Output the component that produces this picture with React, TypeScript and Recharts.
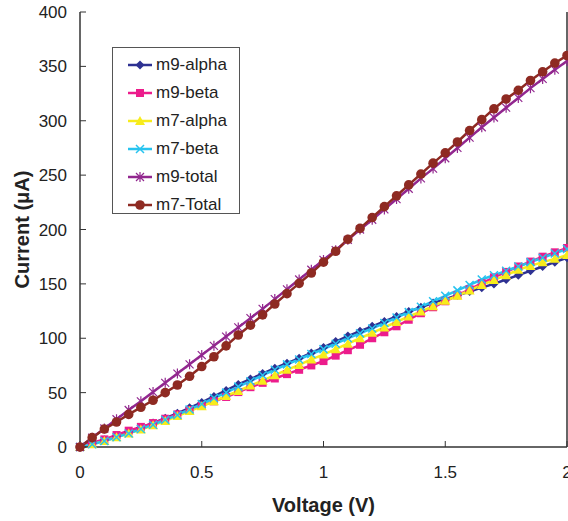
import React from "react";
import { LineChart, Line, XAxis, YAxis, Legend, ReferenceLine } from "recharts";

const voltage = [
  0, 0.05, 0.1, 0.15, 0.2, 0.25, 0.3, 0.35, 0.4, 0.45, 0.5, 0.55, 0.6, 0.65, 0.7, 0.75, 0.8, 0.85, 0.9, 0.95, 1,
  1.05, 1.1, 1.15, 1.2, 1.25, 1.3, 1.35, 1.4, 1.45, 1.5, 1.55, 1.6, 1.65, 1.7, 1.75, 1.8, 1.85, 1.9, 1.95, 2,
];

const m9Alpha = [
  0, 3.5, 6.5, 10, 14, 18, 22, 26.5, 31, 36, 41, 46.5, 52, 57.5, 62.5, 67.5, 72.5, 77, 81.5, 86.5, 91.5,
  97, 102, 106.5, 111, 115.5, 120, 124.5, 128.5, 132.5, 136, 139.5, 143, 146.5, 150, 154, 158, 162, 166, 170, 174,
];
const m9Beta = [
  0, 4, 7, 11, 15, 18.5, 22, 26, 30, 34, 38, 42, 46, 50.5, 55, 59, 63, 67, 71, 75, 79,
  84, 89, 94, 100, 105.5, 111, 117, 123, 128.5, 134, 139.5, 145, 150.5, 156, 161, 166, 170.5, 175, 179, 183,
];
const m7Alpha = [
  0, 2.5, 5.5, 9, 12.5, 16, 20, 24, 28.5, 33, 37.5, 42, 47, 51.5, 56.5, 61, 66, 71, 75.5, 80.5, 85,
  90, 95, 100, 105, 110, 115, 120, 124.5, 129.5, 134.5, 139, 144, 149, 153.5, 158, 163, 166.5, 170, 173, 176.5,
];
const m7Beta = [
  0, 2.5, 5.5, 9, 12.5, 16.5, 20.5, 25, 29.5, 34.5, 39.5, 45, 50, 55.5, 60.5, 66, 71, 76, 80.5, 85.5, 90,
  95, 100, 104.5, 109, 114, 119, 124, 129, 134, 139, 144, 149, 154, 158, 162, 166, 170, 174, 178, 182,
];
const m9Total = [
  0, 8.5, 17, 25.5, 34, 42, 50.5, 59, 67.5, 76, 84.5, 93, 101.5, 110, 118.5, 127, 136, 145, 154, 163, 172,
  181, 190.5, 200, 209, 218.5, 228, 237.5, 247, 256, 265.5, 275, 284.5, 294, 303, 312, 321, 330, 338.5, 347, 355,
];
const m7Total = [
  0, 8.6, 16.5, 23, 30, 36.5, 43, 50, 57, 65, 74, 83, 93, 103, 112, 121.5, 131.5, 141, 150.5, 160, 170,
  180, 191, 201, 211, 221, 231, 241, 251, 261, 270.5, 280.5, 291, 301, 311, 320, 328, 337, 345, 353, 360,
];

const xTicks = [0, 0.5, 1, 1.5, 2];
const yTicks = [0, 50, 100, 150, 200, 250, 300, 350, 400];

const data = voltage.map((v, i) => ({
  v,
  m9a: m9Alpha[i],
  m9b: m9Beta[i],
  m7a: m7Alpha[i],
  m7b: m7Beta[i],
  m9t: m9Total[i],
  m7t: m7Total[i],
}));

const FONT = "'Liberation Sans', Arial, sans-serif";

type Shape = "diamond" | "square" | "triangle" | "x" | "star" | "circle";

const marker = (shape: Shape, color: string, cx: number, cy: number, key?: any) => {
  switch (shape) {
    case "diamond":
      return (
        <path key={key} d={`M${cx},${cy - 4.5}L${cx + 4.5},${cy}L${cx},${cy + 4.5}L${cx - 4.5},${cy}Z`} fill={color} />
      );
    case "square":
      return <rect key={key} x={cx - 4} y={cy - 4} width={8} height={8} fill={color} />;
    case "triangle":
      return <path key={key} d={`M${cx},${cy - 5}L${cx + 5},${cy + 4}L${cx - 5},${cy + 4}Z`} fill={color} />;
    case "x":
      return (
        <path
          key={key}
          d={`M${cx - 4},${cy - 4}L${cx + 4},${cy + 4}M${cx + 4},${cy - 4}L${cx - 4},${cy + 4}`}
          stroke={color}
          strokeWidth={1.5}
        />
      );
    case "star":
      return (
        <path
          key={key}
          d={`M${cx - 4},${cy - 4}L${cx + 4},${cy + 4}M${cx + 4},${cy - 4}L${cx - 4},${cy + 4}M${cx},${cy - 5}L${cx},${cy + 5}`}
          stroke={color}
          strokeWidth={1.2}
        />
      );
    default:
      return <circle key={key} cx={cx} cy={cy} r={4.8} fill={color} />;
  }
};

const series: { key: string; name: string; color: string; shape: Shape }[] = [
  { key: "m9a", name: "m9-alpha", color: "#2e3192", shape: "diamond" },
  { key: "m9b", name: "m9-beta", color: "#ec1c8c", shape: "square" },
  { key: "m7a", name: "m7-alpha", color: "#f7ec1b", shape: "triangle" },
  { key: "m7b", name: "m7-beta", color: "#27c3ef", shape: "x" },
  { key: "m9t", name: "m9-total", color: "#92278f", shape: "star" },
  { key: "m7t", name: "m7-Total", color: "#8e2a22", shape: "circle" },
];

const LegendBox = () => (
  <div style={{ fontFamily: FONT, fontSize: 17, color: "#222" }}>
    {series.map((s) => (
      <div key={s.key} style={{ display: "flex", alignItems: "center", height: 28 }}>
        <svg width={26} height={14} style={{ marginRight: 3 }}>
          <line x1={1} y1={7} x2={25} y2={7} stroke={s.color} strokeWidth={2.5} />
          {marker(s.shape, s.color, 13, 7)}
        </svg>
        <span>{s.name}</span>
      </div>
    ))}
  </div>
);

export default function App() {
  return (
    <div style={{ position: "absolute", left: 0, top: 0 }}>
      <LineChart width={568} height={521} data={data} margin={{ top: 12, right: 1, bottom: 0, left: 0 }}>
        <XAxis
          dataKey="v"
          type="number"
          domain={[0, 2]}
          ticks={xTicks}
          axisLine={{ stroke: "#333", strokeWidth: 1.5 }}
          tickLine={{ stroke: "#333", strokeWidth: 1 }}
          tickSize={-6}
          tickMargin={25}
          height={74}
          tick={{ fill: "#222", fontSize: 17, fontFamily: FONT }}
          interval={0}
          label={({ viewBox }: any) => (
            <text
              x={viewBox.x + viewBox.width / 2}
              y={viewBox.y + 65}
              textAnchor="middle"
              fontFamily={FONT}
              fontWeight="bold"
              fontSize={20}
              fill="#222"
            >
              Voltage (V)
            </text>
          )}
        />
        <YAxis
          type="number"
          domain={[0, 400]}
          ticks={yTicks}
          width={80}
          axisLine={{ stroke: "#333", strokeWidth: 1.5 }}
          tickLine={{ stroke: "#333", strokeWidth: 1 }}
          tickSize={-6}
          tickMargin={19}
          tick={{ fill: "#222", fontSize: 17, fontFamily: FONT }}
          interval={0}
          label={({ viewBox }: any) => {
            const cx = 22;
            const cy = viewBox.y + viewBox.height / 2;
            return (
              <text
                x={cx}
                y={cy}
                transform={`rotate(-90 ${cx} ${cy})`}
                textAnchor="middle"
                dominantBaseline="central"
                fontFamily={FONT}
                fontWeight="bold"
                fontSize={20}
                fill="#222"
              >
                Current (μA)
              </text>
            );
          }}
        />
        <ReferenceLine x={2} stroke="#333" strokeWidth={1.5} />
        <Legend
          layout="vertical"
          align="center"
          verticalAlign="middle"
          content={() => <LegendBox />}
          wrapperStyle={{
            left: 112,
            top: 47,
            width: 128,
            height: 167,
            padding: "3px 0 0 14px",
            boxSizing: "border-box",
            border: "1px solid #555",
            background: "#fff",
          }}
        />
        {series.map((s) => (
          <Line
            key={s.key}
            dataKey={s.key}
            name={s.name}
            stroke={s.color}
            strokeWidth={2.5}
            isAnimationActive={false}
            type="linear"
            dot={(p: any) => marker(s.shape, s.color, p.cx, p.cy, `${s.key}-${p.index}`)}
            activeDot={false}
          />
        ))}
      </LineChart>
    </div>
  );
}
